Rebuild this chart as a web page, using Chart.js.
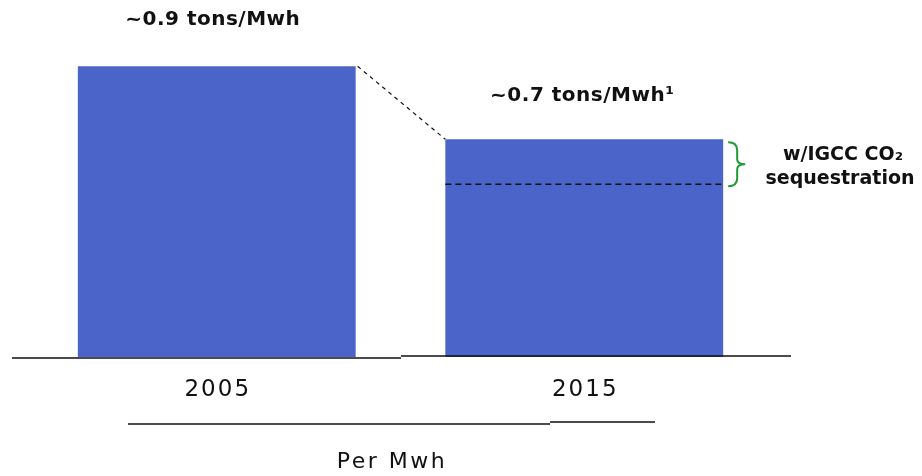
<!DOCTYPE html>
<html>
<head>
<meta charset="utf-8">
<script src="https://cdn.jsdelivr.net/npm/chart.js@4/dist/chart.umd.min.js"></script>
<style>
  html, body { margin: 0; padding: 0; background: #fff; }
  #wrap { width: 922px; height: 476px; }
</style>
</head>
<body>
<div id="wrap"><canvas id="co2Chart" width="922" height="476"></canvas></div>
<script>
// Data
const years = ["2005", "2015"];
const tonsPerMwh = [0.9, 0.674];
const barLabels = ["~0.9 tons/Mwh", "~0.7 tons/Mwh\u00B9"];
const sequestrationLevel = 0.535; // dashed line inside the 2015 bar
const noteLines = ["w/IGCC CO\u2082", "sequestration"];
const axisTitle = "Per Mwh";

const barColor = "#4a64c9";

const annotate = {
  id: "annotate",
  afterDatasetsDraw(chart) {
    const ctx = chart.ctx;
    const x = chart.scales.x;
    const y = chart.scales.y;
    const bars = chart.getDatasetMeta(0).data;
    const base = y.getPixelForValue(0);

    ctx.save();

    // baseline (two slightly offset segments like the original)
    ctx.strokeStyle = "#111";
    ctx.lineWidth = 1.5;
    ctx.beginPath();
    ctx.moveTo(12, base + 1);
    ctx.lineTo(401, base + 1);
    ctx.moveTo(401, base - 1);
    ctx.lineTo(791, base - 1);
    ctx.stroke();

    // dashed connector between bar tops
    const b0 = bars[0], b1 = bars[1];
    ctx.setLineDash([4, 4]);
    ctx.lineWidth = 1.2;
    ctx.beginPath();
    ctx.moveTo(b0.x + b0.width / 2 + 2, b0.y);
    ctx.lineTo(b1.x - b1.width / 2, b1.y);
    ctx.stroke();

    // sequestration dashed line
    const sy = y.getPixelForValue(sequestrationLevel);
    ctx.setLineDash([6, 4]);
    ctx.lineWidth = 1.5;
    ctx.beginPath();
    ctx.moveTo(b1.x - b1.width / 2, sy);
    ctx.lineTo(b1.x + b1.width / 2 - 2, sy);
    ctx.stroke();
    ctx.setLineDash([]);

    // green brace
    const bx = b1.x + b1.width / 2 + 5;
    const top = b1.y + 3, bot = sy + 2, mid = (top + bot) / 2;
    ctx.strokeStyle = "#1f9a35";
    ctx.lineWidth = 2;
    ctx.beginPath();
    ctx.moveTo(bx, top);
    ctx.quadraticCurveTo(bx + 9, top, bx + 9, top + 8);
    ctx.lineTo(bx + 9, mid - 5);
    ctx.quadraticCurveTo(bx + 9, mid, bx + 17, mid);
    ctx.quadraticCurveTo(bx + 9, mid, bx + 9, mid + 5);
    ctx.lineTo(bx + 9, bot - 8);
    ctx.quadraticCurveTo(bx + 9, bot, bx, bot);
    ctx.stroke();

    // value labels above bars
    ctx.fillStyle = "#111";
    ctx.textAlign = "center";
    ctx.textBaseline = "middle";
    ctx.font = "bold 20px 'DejaVu Sans'";
    ctx.letterSpacing = "0.5px";
    ctx.fillText(barLabels[0], b0.x - 4, 20);
    ctx.fillText(barLabels[1], b1.x - 2, 96);

    // note text
    ctx.font = "bold 19px 'DejaVu Sans'";
    ctx.letterSpacing = "0px";
    ctx.fillText(noteLines[0], 843, 155);
    ctx.fillText(noteLines[1], 840, 179);

    // category labels
    ctx.font = "23px 'DejaVu Sans'";
    ctx.letterSpacing = "2px";
    years.forEach((yr, i) => {
      ctx.fillText(yr, x.getPixelForValue(i) + 1, 390);
    });

    // underline below categories
    ctx.strokeStyle = "#111";
    ctx.lineWidth = 1.5;
    ctx.beginPath();
    ctx.moveTo(128, 424);
    ctx.lineTo(550, 424);
    ctx.moveTo(550, 422);
    ctx.lineTo(655, 422);
    ctx.stroke();

    // axis title
    ctx.font = "22px 'DejaVu Sans'";
    ctx.letterSpacing = "2.5px";
    ctx.fillText(axisTitle, 392, 462);

    ctx.restore();
  }
};

new Chart(document.getElementById("co2Chart"), {
  type: "bar",
  data: {
    labels: years,
    datasets: [{
      data: tonsPerMwh,
      backgroundColor: barColor,
      borderWidth: 0,
      barPercentage: 0.756,
      categoryPercentage: 1
    }]
  },
  options: {
    responsive: false,
    animation: false,
    events: [],
    layout: { padding: { left: 33, right: 154, top: 34, bottom: 119 } },
    plugins: { legend: { display: false }, tooltip: { enabled: false } },
    scales: {
      x: { display: false, offset: true },
      y: { display: false, min: 0, max: 1.0 }
    }
  },
  plugins: [annotate]
});
</script>
</body>
</html>
